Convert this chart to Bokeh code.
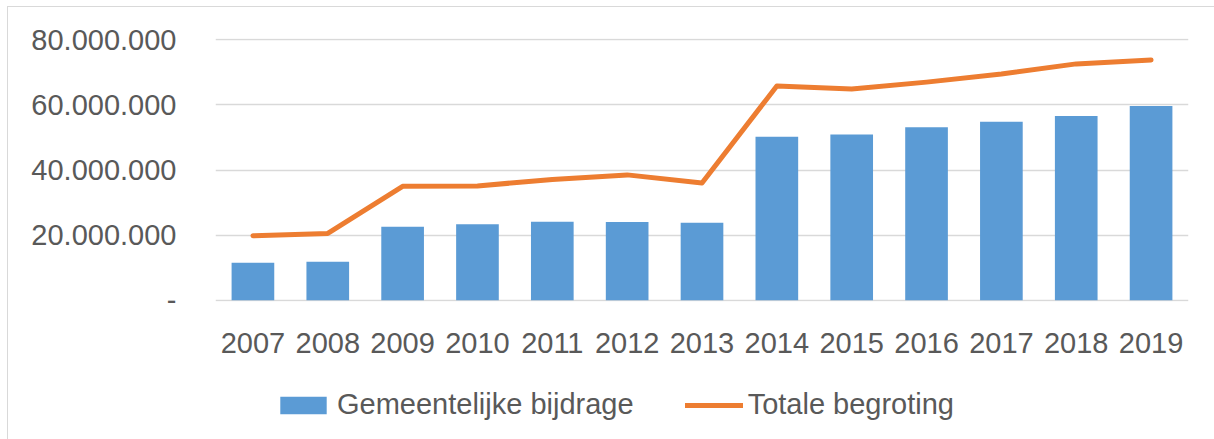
from bokeh.plotting import figure
from bokeh.layouts import column
from bokeh.models import (ColumnDataSource, FactorRange, Range1d, FixedTicker,
                          Legend, LegendItem)
from bokeh.embed import file_html
from bokeh.resources import INLINE

years = ["2007", "2008", "2009", "2010", "2011", "2012", "2013",
         "2014", "2015", "2016", "2017", "2018", "2019"]
gemeentelijke_bijdrage = [11.5e6, 11.8e6, 22.6e6, 23.3e6, 24.1e6, 24.0e6, 23.8e6,
                          50.2e6, 50.9e6, 53.1e6, 54.8e6, 56.6e6, 59.7e6]
totale_begroting = [19.8e6, 20.5e6, 35.0e6, 35.1e6, 37.1e6, 38.5e6, 36.0e6,
                    65.8e6, 64.9e6, 67.0e6, 69.5e6, 72.6e6, 73.8e6]
y_ticks = [0, 20e6, 40e6, 60e6, 80e6]
y_tick_labels = ["-", "20.000.000", "40.000.000", "60.000.000", "80.000.000"]
series_names = ["Gemeentelijke bijdrage", "Totale begroting"]

BLUE = "#5B9BD5"
ORANGE = "#ED7D31"
GRID = "#D9D9D9"
TEXT = "#595959"
FONT = "Liberation Sans"
FS = "29px"

src = ColumnDataSource(dict(year=years, bij=gemeentelijke_bijdrage, tot=totale_begroting))

p = figure(width=1206, height=360, output_backend="svg", toolbar_location=None,
           x_range=FactorRange(*years, range_padding=0),
           y_range=Range1d(-0.4e6, 80.4e6),
           min_border_left=207, min_border_right=26, min_border_top=31,
           min_border_bottom=66)
p.outline_line_color = None
p.background_fill_color = "white"
p.border_fill_color = "white"

bars = p.vbar(x="year", top="bij", width=0.57, source=src, fill_color=BLUE, line_color=None)
line = p.line(x="year", y="tot", source=src, line_color=ORANGE, line_width=5,
              line_cap="round", line_join="round")

# axes
p.yaxis.ticker = FixedTicker(ticks=y_ticks)
p.yaxis.major_label_overrides = {t: l for t, l in zip(y_ticks, y_tick_labels)}
p.yaxis.axis_line_color = None
p.yaxis.major_tick_line_color = None
p.yaxis.minor_tick_line_color = None
p.yaxis.major_label_standoff = 33
p.yaxis.major_label_text_font = FONT
p.yaxis.major_label_text_font_size = FS
p.yaxis.major_label_text_color = TEXT

p.xaxis.axis_line_color = None
p.xaxis.major_tick_line_color = None
p.xaxis.minor_tick_line_color = None
p.xaxis.major_label_standoff = 25
p.xaxis.major_label_text_font = FONT
p.xaxis.major_label_text_font_size = FS
p.xaxis.major_label_text_color = TEXT

p.xgrid.grid_line_color = None
p.ygrid.ticker = FixedTicker(ticks=y_ticks)
p.ygrid.grid_line_color = GRID
p.ygrid.grid_line_width = 1.5

# legend strip (separate figure below the chart; its series lie far below view)
lf = figure(width=1206, height=72, output_backend="svg", toolbar_location=None,
            x_axis_type=None, y_axis_type=None,
            x_range=p.x_range, y_range=Range1d(1.0e9, 1.1e9),
            min_border_left=0, min_border_right=0, min_border_top=0, min_border_bottom=0)
lf.outline_line_color = None
lf.grid.grid_line_color = None
lf.border_fill_color = "white"
lbar = lf.vbar(x="year", top="bij", width=0.57, source=src, fill_color=BLUE, line_color=None)
lline = lf.line(x="year", y="tot", source=src, line_color=ORANGE, line_width=5,
                line_cap="round")

legend = Legend(items=[LegendItem(label=series_names[0], renderers=[lbar]),
                       LegendItem(label=series_names[1], renderers=[lline])],
                orientation="horizontal", location=(59, 18),
                glyph_width=58, glyph_height=22, label_standoff=5, spacing=51,
                padding=0, margin=0, border_line_color=None, background_fill_alpha=0,
                label_text_font=FONT, label_text_font_size=FS, label_text_color=TEXT)
lf.add_layout(legend, "center")

layout = column(p, lf, spacing=0)
layout.margin = (6, 0, 0, 7)
layout.styles = {"border-top": "1px solid #D9D9D9", "border-left": "1px solid #D9D9D9"}

open("out.html", "w").write(file_html(layout, INLINE))
